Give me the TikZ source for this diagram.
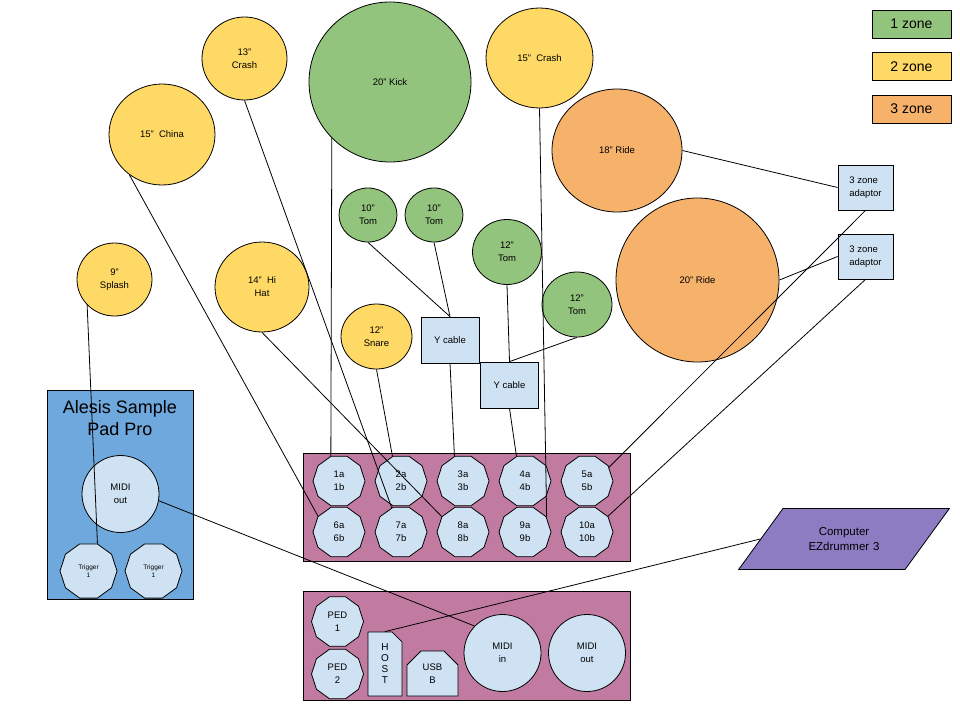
\documentclass[tikz,border=0pt]{standalone}
\usepackage{fontspec}
\setmainfont{Liberation Sans}
\usepackage{tikz}
\usetikzlibrary{shapes.geometric, shapes.misc, positioning}

\definecolor{zgreen}{HTML}{93C47D}
\definecolor{zyellow}{HTML}{FFD966}
\definecolor{zorange}{HTML}{F6B26B}
\definecolor{padblue}{HTML}{CFE2F3}
\definecolor{boxblue}{HTML}{6FA8DC}
\definecolor{modpink}{HTML}{C27BA0}
\definecolor{pcpurple}{HTML}{8E7CC3}

\begin{document}
\begin{tikzpicture}[x=1pt, y=-1pt, line width=0.8pt,
  every node/.style={font=\fontsize{9.5}{13}\selectfont, align=center, inner sep=0pt},
  drum/.style 2 args={ellipse, draw, minimum width=#1, minimum height=#2},
  pad/.style={regular polygon, regular polygon sides=10, draw, fill=padblue, minimum size=52},
  jack/.style={circle, draw, fill=padblue, minimum size=77},
  cablebox/.style={draw, fill=padblue, minimum width=58, minimum height=46},
  legendbox/.style={draw, minimum width=79, minimum height=28, font=\fontsize{14}{16}\selectfont},
  module/.style={draw, fill=modpink, minimum width=327, minimum height=108}]
  \fill[white] (0,0) rectangle (960,720);
  \useasboundingbox (0,0) rectangle (960,720);

  % Legend
  \node[legendbox, fill=zgreen] (one) at (911.5,24) {1 zone};
  \node[legendbox, fill=zyellow] (two) at (911.5,66.5) {2 zone};
  \node[legendbox, fill=zorange] (three) at (911.5,109) {3 zone};

  % Cymbals and drums
  \node[drum={162}{160}, fill=zgreen] (kick) at (390,82) {20" Kick};
  \node[drum={85}{83}, fill=zyellow] (crashA) at (244.5,58.5) {13"\\Crash};
  \node[drum={106}{101}, fill=zyellow] (china) at (162,134.5) {15"\ \ China};
  \node[drum={107}{100}, fill=zyellow] (crashB) at (539.5,58) {15"\ \ Crash};
  \node[drum={130}{123}, fill=zorange] (rideA) at (617,150.5) {18" Ride};
  \node[drum={163}{164}, fill=zorange] (rideB) at (697.5,280) {20" Ride};
  \node[drum={58}{54}, fill=zgreen] (tomA) at (368,215) {10"\\Tom};
  \node[drum={58}{54}, fill=zgreen] (tomB) at (434,215) {10"\\Tom};
  \node[drum={69}{65}, fill=zgreen] (tomC) at (507,252) {12"\\Tom};
  \node[drum={70}{65}, fill=zgreen] (tomD) at (577,304.5) {12"\\Tom};
  \node[drum={75}{73}, fill=zyellow] (splash) at (114.5,279.5) {9"\\Splash};
  \node[drum={94}{90}, fill=zyellow] (hihat) at (262,287) {14"\ \ Hi\\Hat};
  \node[drum={71}{65}, fill=zyellow] (snare) at (376.5,336.5) {12"\\Snare};

  % Cables and adaptors
  \node[cablebox] (yA) at (450,340) {Y cable};
  \node[cablebox] (yB) at (509.5,385) {Y cable};
  \node[cablebox, minimum width=55, minimum height=45, align=left] (adA) at (865.5,187.5) {3 zone\\adaptor};
  \node[cablebox, minimum width=55, minimum height=45, align=left] (adB) at (865.5,256.5) {3 zone\\adaptor};

  % Sample pad
  \node[draw, fill=boxblue, minimum width=146, minimum height=209] (alesis) at (120,494.5) {};
  \node[font=\fontsize{18}{22}\selectfont] (title) at (120,418) {Alesis Sample\\Pad Pro};
  \node[jack] (aout) at (120.5,494) {MIDI\\out};
  \node[pad, minimum size=57, font=\fontsize{6.5}{8}\selectfont] (trigA) at (88.5,571) {Trigger\\1};
  \node[pad, minimum size=57, font=\fontsize{6.5}{8}\selectfont] (trigB) at (153.5,571) {Trigger\\1};

  % Module, trigger inputs
  \node[module] (modtop) at (466.5,507) {};
  \foreach \i in {1,...,5}
    \node[pad] (p\i) at ({277+62*\i},481) {\i a\\\i b};
  \foreach \i in {6,...,10}
    \node[pad] (p\i) at ({339+62*(\i-6)},532) {\i a\\\i b};

  % Module, back panel
  \node[module, minimum height=109] (modbot) at (466.5,645.5) {};
  \node[pad] (pedA) at (337.5,621.5) {PED\\1};
  \node[pad] (pedB) at (337.5,674) {PED\\2};
  \node[chamfered rectangle, chamfered rectangle corners=north east,
    chamfered rectangle xsep=6pt, chamfered rectangle ysep=6pt, draw, fill=padblue,
    minimum width=34, minimum height=64, font=\fontsize{10}{11}\selectfont] (host) at (385,664) {H\\O\\S\\T};
  \node[chamfered rectangle, chamfered rectangle corners={north west,north east},
    chamfered rectangle xsep=7pt, chamfered rectangle ysep=7pt, draw, fill=padblue,
    minimum width=51, minimum height=45] (usb) at (432.5,673.5) {USB\\B};
  \node[jack] (midiin) at (502.5,653) {MIDI\\in};
  \node[jack] (midiout) at (587,653) {MIDI\\out};

  % Computer
  \node[trapezium, trapezium left angle=54, trapezium right angle=126,
    draw, fill=pcpurple, text width=122, inner xsep=0pt, inner ysep=19pt,
    font=\fontsize{11.5}{15}\selectfont] (pc) at (844,539) {Computer\\EZdrummer 3};

  % Connections
  \draw (china.231) -- (p6.143);
  \draw (crashA.south) -- (p7.111);
  \draw (hihat.south) -- (p8.144);
  \draw (kick.224) -- (p1.108);
  \draw (snare.south) -- (p2.109);
  \draw (tomA.south) -- (yA.north);
  \draw (tomB.south) -- (yA.north);
  \draw (yA.south) -- (p3.109);
  \draw (tomC.south) -- (yB.north);
  \draw (tomD.south) -- (yB.north);
  \draw (yB.south) -- (p4.109);
  \draw (crashB.south) -- (p9.34);
  \draw (rideA.east) -- (adA.west);
  \draw (rideB.east) -- (adB.west);
  \draw (adA.south) -- (p5.32);
  \draw (adB.south) -- (p10.37);
  \draw (splash.223) -- (trigA.72);
  \draw (aout.350) -- (midiin.136);
  \draw (pc.west) -- (host.north);
\end{tikzpicture}
\end{document}
